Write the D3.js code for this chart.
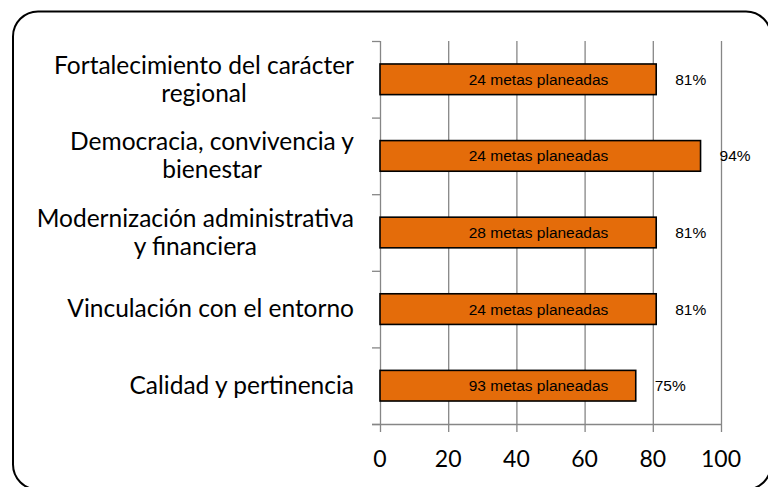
<!DOCTYPE html>
<html>
<head>
	<meta charset="utf-8">
	<script src="https://cdn.jsdelivr.net/npm/d3@7"></script>
	<style>
		body { margin: 0; background: #fff; }
		.cat { font: 24.5px Lato, sans-serif; fill: #000; }
		.tick-label { font: 23px Lato, sans-serif; fill: #000; }
		.bar-label { font: 15.5px "Liberation Sans", Arial, sans-serif; fill: #000; }
	</style>
</head>
<body>
	<svg id="chart" width="768" height="487"></svg>

	<script type="text/javascript">
		// data (top to bottom)
		var categories = [
			"Fortalecimiento del carácter\nregional",
			"Democracia, convivencia y\nbienestar",
			"Modernización administrativa\ny financiera",
			"Vinculación con el entorno",
			"Calidad y pertinencia"
		];
		var percentValues = [81, 94, 81, 81, 75];
		var metasPlaneadas = [24, 24, 28, 24, 93];
		var xTicks = [0, 20, 40, 60, 80, 100];

		var svg = d3.select("#chart");

		// outer rounded frame
		svg.append("rect")
			.attr("x", 13).attr("y", 11.5)
			.attr("width", 758).attr("height", 478)
			.attr("rx", 25).attr("ry", 25)
			.attr("fill", "#fff")
			.attr("stroke", "#000")
			.attr("stroke-width", 2);

		var x = d3.scaleLinear().domain([0, 100]).range([380, 721]);
		var y = d3.scaleBand()
			.domain(categories)
			.range([41, 424])
			.paddingInner(0.6)
			.paddingOuter(0.3);

		var grey = "#868686";

		// vertical gridlines
		svg.append("g").selectAll("line")
			.data(xTicks)
			.enter().append("line")
			.attr("x1", function(d) { return x(d) + 0.5; })
			.attr("x2", function(d) { return x(d) + 0.5; })
			.attr("y1", 41).attr("y2", 432)
			.attr("stroke", grey)
			.attr("stroke-width", 1.3);

		// bottom axis line
		svg.append("line")
			.attr("x1", 372).attr("x2", x(100) + 0.5)
			.attr("y1", 424.5).attr("y2", 424.5)
			.attr("stroke", grey).attr("stroke-width", 1.3);

		// left ticks at the band boundaries
		var bounds = categories.map(function(c) { return y(c) - y.step() * 0.3; });
		bounds.push(424);
		svg.append("g").selectAll("line")
			.data(bounds)
			.enter().append("line")
			.attr("x1", 372).attr("x2", x(0))
			.attr("y1", function(d) { return d + 0.5; })
			.attr("y2", function(d) { return d + 0.5; })
			.attr("stroke", grey).attr("stroke-width", 1.3);

		// tick labels
		svg.append("g").selectAll("text")
			.data(xTicks)
			.enter().append("text")
			.attr("class", "tick-label")
			.attr("x", function(d) { return x(d); })
			.attr("y", 466.5)
			.attr("text-anchor", "middle")
			.text(function(d) { return d; });

		// bars
		svg.append("g").selectAll("rect")
			.data(categories)
			.enter().append("rect")
			.attr("x", x(0))
			.attr("y", function(d) { return y(d); })
			.attr("width", function(d, i) { return x(percentValues[i]) - x(0); })
			.attr("height", y.bandwidth())
			.attr("fill", "#E46C0A")
			.attr("stroke", "#000")
			.attr("stroke-width", 1.6);

		// labels inside bars
		svg.append("g").selectAll("text")
			.data(categories)
			.enter().append("text")
			.attr("class", "bar-label")
			.attr("x", x(46.5))
			.attr("y", function(d) { return y(d) + y.bandwidth() / 2; })
			.attr("dy", "0.36em")
			.attr("text-anchor", "middle")
			.text(function(d, i) { return metasPlaneadas[i] + " metas planeadas"; });

		// percent labels
		svg.append("g").selectAll("text")
			.data(categories)
			.enter().append("text")
			.attr("class", "bar-label")
			.attr("x", function(d, i) { return x(percentValues[i]) + 19; })
			.attr("y", function(d) { return y(d) + y.bandwidth() / 2; })
			.attr("dy", "0.36em")
			.text(function(d, i) { return percentValues[i] + "%"; });

		// category labels: block right aligned, lines centred in the block
		var lineHeight = 28;
		categories.forEach(function(c) {
			var lines = c.split("\n");
			var cy = y(c) + y.bandwidth() / 2;
			var g = svg.append("g");
			var texts = g.selectAll("text")
				.data(lines)
				.enter().append("text")
				.attr("class", "cat")
				.attr("text-anchor", "middle")
				.attr("y", function(d, i) {
					return cy + (i - (lines.length - 1) / 2) * lineHeight;
				})
				.attr("dy", "0.34em")
				.text(function(d) { return d; });
			var maxW = 0;
			texts.each(function() { maxW = Math.max(maxW, this.getComputedTextLength()); });
			texts.attr("x", 354 - maxW / 2);
		});
	</script>
</body>
</html>
